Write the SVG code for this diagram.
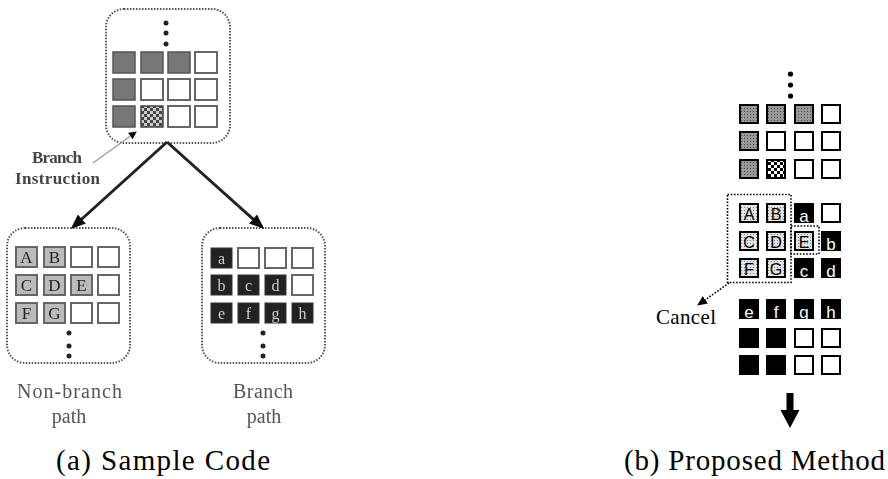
<svg xmlns="http://www.w3.org/2000/svg" width="888" height="479" viewBox="0 0 888 479">
<defs>
<style>
.lbox{fill:none;stroke:#555;stroke-width:2;stroke-dasharray:1.5 1.5}
.lg{fill:#777;stroke:#555;stroke-width:1.5}
.lw{fill:#fff;stroke:#666;stroke-width:2}
.ll{fill:#bbb;stroke:#666;stroke-width:2}
.lb{fill:#222;stroke:#333;stroke-width:1}
.ltL{font-family:"Liberation Serif",serif;font-size:17px;fill:#222;text-anchor:middle}
.ltb{font-family:"Liberation Serif",serif;font-size:16px;fill:#ccc;text-anchor:middle}
.lab{font-family:"Liberation Serif",serif;font-size:20px;fill:#555;text-anchor:middle}
.bi{font-family:"Liberation Serif",serif;font-size:17px;font-weight:bold;fill:#444}
.dot{fill:#222}
.rg{fill:url(#stip);stroke:#000;stroke-width:2}
.rw{fill:#fff;stroke:#000;stroke-width:2}
.rl{fill:url(#lstip);stroke:#000;stroke-width:2}
.rb{fill:#000}
.rtA{font-family:"Liberation Sans",sans-serif;font-size:16px;fill:#000;text-anchor:middle}
.rtb{font-family:"Liberation Sans",sans-serif;font-size:17px;fill:#fff;text-anchor:middle}
.rdot{fill:none;stroke:#000;stroke-width:1.6;stroke-dasharray:1.6 1.6}
.cap{font-family:"Liberation Serif",serif;font-size:29px;fill:#000}
.arr{stroke:#222;stroke-width:3;fill:none}
</style>
<pattern id="stip" width="3" height="3" patternUnits="userSpaceOnUse">
<rect width="3" height="3" fill="#999"/>
<rect width="1" height="1" fill="#444"/>
</pattern>
<pattern id="lstip" width="3" height="3" patternUnits="userSpaceOnUse">
<rect width="3" height="3" fill="#e4e4e4"/>
<rect width="1" height="1" fill="#777"/>
</pattern>
<pattern id="chk" width="6" height="6" patternUnits="userSpaceOnUse">
<rect width="6" height="6" fill="#fff"/>
<rect width="3" height="3" fill="#000"/>
<rect x="3" y="3" width="3" height="3" fill="#000"/>
</pattern>
<pattern id="lchk" width="6" height="6" patternUnits="userSpaceOnUse">
<rect width="6" height="6" fill="#ccc"/>
<rect width="3" height="3" fill="#444"/>
<rect x="3" y="3" width="3" height="3" fill="#444"/>
</pattern>
<marker id="ah" markerWidth="5" markerHeight="4" refX="4" refY="2" orient="auto" markerUnits="strokeWidth">
<path d="M0,0 L5,2 L0,4 z" fill="#111"/>
</marker>
<marker id="ahs" markerWidth="8" markerHeight="8" refX="7" refY="4" orient="auto" markerUnits="userSpaceOnUse">
<path d="M0,0 L8,4 L0,8 z" fill="#111"/>
</marker>
<marker id="ahc" markerWidth="10" markerHeight="9" refX="9" refY="4.5" orient="auto" markerUnits="userSpaceOnUse">
<path d="M0,0 L10,4.5 L0,9 z" fill="#000"/>
</marker>
<filter id="blur"><feGaussianBlur stdDeviation="0.5"/></filter>
</defs>
<rect width="888" height="479" fill="#fff"/>

<g id="left" filter="url(#blur)">
<g id="top-code">
<rect class="lbox" x="106" y="9" width="124" height="134" rx="18"/>
<circle class="dot" cx="166" cy="23" r="2.5"/>
<circle class="dot" cx="166" cy="33" r="2.5"/>
<circle class="dot" cx="166" cy="44" r="2.5"/>
<rect class="lg" x="113" y="52" width="22" height="21"/>
<rect class="lg" x="141" y="52" width="22" height="21"/>
<rect class="lg" x="168" y="52" width="22" height="21"/>
<rect class="lw" x="195" y="52" width="22" height="21"/>
<rect class="lg" x="113" y="79" width="22" height="21"/>
<rect class="lw" x="141" y="79" width="22" height="21"/>
<rect class="lw" x="168" y="79" width="22" height="21"/>
<rect class="lw" x="195" y="79" width="22" height="21"/>
<rect class="lg" x="113" y="106" width="22" height="21"/>
<rect x="141" y="106" width="22" height="21" fill="url(#lchk)" stroke="#444" stroke-width="1.5"/>
<rect class="lw" x="168" y="106" width="22" height="21"/>
<rect class="lw" x="195" y="106" width="22" height="21"/>
</g>
<g id="branch-instruction">
<text class="bi" x="32" y="163" textLength="50">Branch</text>
<text class="bi" x="15" y="184" textLength="85">Instruction</text>
<line x1="93" y1="163" x2="136" y2="132" stroke="#999" stroke-width="1.2" marker-end="url(#ahs)"/>
</g>
<g id="non-branch">
<rect class="lbox" x="7" y="228" width="123" height="135" rx="18"/>
<rect class="ll" x="16" y="247" width="21" height="20"/><text class="ltL" x="26.5" y="263">A</text>
<rect class="ll" x="44" y="247" width="21" height="20"/><text class="ltL" x="54.5" y="263">B</text>
<rect class="lw" x="71" y="247" width="21" height="20"/>
<rect class="lw" x="98" y="247" width="21" height="20"/>
<rect class="ll" x="16" y="275" width="21" height="20"/><text class="ltL" x="26.5" y="291">C</text>
<rect class="ll" x="44" y="275" width="21" height="20"/><text class="ltL" x="54.5" y="291">D</text>
<rect class="ll" x="71" y="275" width="21" height="20"/><text class="ltL" x="81.5" y="291">E</text>
<rect class="lw" x="98" y="275" width="21" height="20"/>
<rect class="ll" x="16" y="303" width="21" height="20"/><text class="ltL" x="26.5" y="319">F</text>
<rect class="ll" x="44" y="303" width="21" height="20"/><text class="ltL" x="54.5" y="319">G</text>
<rect class="lw" x="71" y="303" width="21" height="20"/>
<rect class="lw" x="98" y="303" width="21" height="20"/>
<circle class="dot" cx="69" cy="333" r="2.5"/>
<circle class="dot" cx="69" cy="346" r="2.5"/>
<circle class="dot" cx="69" cy="356" r="2.5"/>
<text class="lab" x="69.5" y="398" textLength="105">Non-branch</text>
<text class="lab" x="69" y="423">path</text>
</g>
<g id="branch">
<rect class="lbox" x="202" y="228" width="123" height="135" rx="18"/>
<rect class="lb" x="211" y="248" width="21" height="20"/><text class="ltb" x="221.5" y="264">a</text>
<rect class="lw" x="238" y="248" width="21" height="20"/>
<rect class="lw" x="265" y="248" width="21" height="20"/>
<rect class="lw" x="292" y="248" width="21" height="20"/>
<rect class="lb" x="211" y="275" width="21" height="20"/><text class="ltb" x="221.5" y="291">b</text>
<rect class="lb" x="238" y="275" width="21" height="20"/><text class="ltb" x="248.5" y="291">c</text>
<rect class="lb" x="265" y="275" width="21" height="20"/><text class="ltb" x="275.5" y="291">d</text>
<rect class="lw" x="292" y="275" width="21" height="20"/>
<rect class="lb" x="211" y="303" width="21" height="20"/><text class="ltb" x="221.5" y="319">e</text>
<rect class="lb" x="238" y="303" width="21" height="20"/><text class="ltb" x="248.5" y="319">f</text>
<rect class="lb" x="265" y="303" width="21" height="20"/><text class="ltb" x="275.5" y="319">g</text>
<rect class="lb" x="292" y="303" width="21" height="20"/><text class="ltb" x="302.5" y="319">h</text>
<circle class="dot" cx="263" cy="333" r="2.5"/>
<circle class="dot" cx="263" cy="346" r="2.5"/>
<circle class="dot" cx="263" cy="356" r="2.5"/>
<text class="lab" x="263" y="398" textLength="60">Branch</text>
<text class="lab" x="264" y="423">path</text>
</g>
<g id="connectors">
<line class="arr" x1="167" y1="142" x2="73" y2="227" marker-end="url(#ah)"/>
<line class="arr" x1="167" y1="142" x2="262" y2="227" marker-end="url(#ah)"/>
</g>
</g>

<g id="right">
<g id="dots-r">
<circle cx="790.5" cy="74" r="2.6" fill="#000"/>
<circle cx="790.5" cy="85" r="2.6" fill="#000"/>
<circle cx="790.5" cy="96" r="2.6" fill="#000"/>
</g>
<g id="grid-top">
<rect class="rg" x="740" y="105" width="18" height="18"/>
<rect class="rg" x="767" y="105" width="18" height="18"/>
<rect class="rg" x="795" y="105" width="18" height="18"/>
<rect class="rw" x="822" y="105" width="18" height="18"/>
<rect class="rg" x="740" y="132" width="18" height="18"/>
<rect class="rw" x="767" y="132" width="18" height="18"/>
<rect class="rw" x="795" y="132" width="18" height="18"/>
<rect class="rw" x="822" y="132" width="18" height="18"/>
<rect class="rg" x="740" y="160" width="18" height="18"/>
<rect x="767" y="160" width="18" height="18" fill="url(#chk)" stroke="#000" stroke-width="2"/>
<rect class="rw" x="795" y="160" width="18" height="18"/>
<rect class="rw" x="822" y="160" width="18" height="18"/>
</g>
<g id="grid-mid">
<rect class="rl" x="740" y="204" width="18" height="18"/><text class="rtA" x="749" y="220">A</text>
<rect class="rl" x="767" y="204" width="18" height="18"/><text class="rtA" x="776" y="220">B</text>
<rect class="rb" x="794" y="203" width="20" height="20"/><text class="rtb" x="804" y="222">a</text>
<rect class="rw" x="822" y="204" width="18" height="18"/>
<rect class="rl" x="740" y="232" width="18" height="18"/><text class="rtA" x="749" y="248">C</text>
<rect class="rl" x="767" y="232" width="18" height="18"/><text class="rtA" x="776" y="248">D</text>
<rect class="rl" x="795" y="232" width="18" height="18"/><text class="rtA" x="804" y="248">E</text>
<rect class="rb" x="821" y="231" width="20" height="20"/><text class="rtb" x="831" y="250">b</text>
<rect class="rl" x="740" y="259" width="18" height="18"/><text class="rtA" x="749" y="275">F</text>
<rect class="rl" x="767" y="259" width="18" height="18"/><text class="rtA" x="776" y="275">G</text>
<rect class="rb" x="794" y="258" width="20" height="20"/><text class="rtb" x="804" y="277">c</text>
<rect class="rb" x="821" y="258" width="20" height="20"/><text class="rtb" x="831" y="277">d</text>
<rect class="rdot" x="727.5" y="194.5" width="63.5" height="88"/>
<rect class="rdot" x="791" y="226" width="28" height="28"/>
</g>
<g id="cancel">
<line class="rdot" x1="729" y1="283" x2="698" y2="305" marker-end="url(#ahc)"/>
<text x="686" y="324" font-family="Liberation Serif, serif" font-size="21" text-anchor="middle" textLength="60">Cancel</text>
</g>
<g id="grid-bottom">
<rect class="rb" x="739" y="299" width="20" height="20"/><text class="rtb" x="749" y="318">e</text>
<rect class="rb" x="766" y="299" width="20" height="20"/><text class="rtb" x="776" y="318">f</text>
<rect class="rb" x="794" y="299" width="20" height="20"/><text class="rtb" x="804" y="318">g</text>
<rect class="rb" x="821" y="299" width="20" height="20"/><text class="rtb" x="831" y="318">h</text>
<rect class="rb" x="739" y="328" width="20" height="20"/>
<rect class="rb" x="766" y="328" width="20" height="20"/>
<rect class="rw" x="795" y="329" width="18" height="18"/>
<rect class="rw" x="822" y="329" width="18" height="18"/>
<rect class="rb" x="739" y="355" width="20" height="20"/>
<rect class="rb" x="766" y="355" width="20" height="20"/>
<rect class="rw" x="795" y="356" width="18" height="18"/>
<rect class="rw" x="822" y="356" width="18" height="18"/>
</g>
<g id="down-arrow">
<rect x="786.5" y="393" width="7" height="19" fill="#000"/>
<polygon points="780.5,410 799.5,410 790,428" fill="#000"/>
</g>
</g>

<g id="captions">
<text class="cap" x="56" y="470" textLength="214">(a) Sample Code</text>
<text class="cap" x="624" y="470" textLength="261">(b) Proposed Method</text>
</g>
</svg>
